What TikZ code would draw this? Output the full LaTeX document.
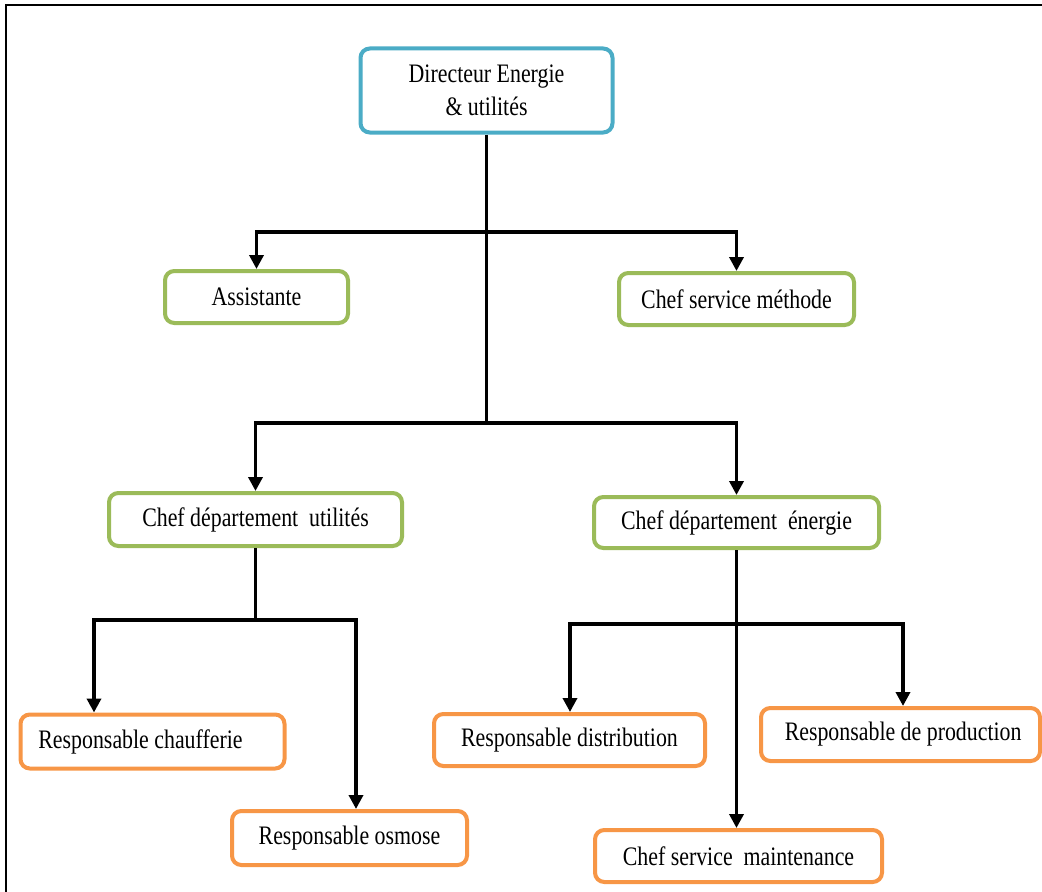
\documentclass[tikz,border=0pt]{standalone}
\usepackage{fontspec}
\setmainfont{Liberation Serif}[FakeStretch=0.82]
\usetikzlibrary{arrows.meta}
\definecolor{cblue}{HTML}{4BACC6}
\definecolor{cgreen}{HTML}{9BBB59}
\definecolor{corange}{HTML}{F79646}
\tikzset{
  box/.style={draw, line width=3pt, rounded corners=7pt, fill=white, align=center,
    inner sep=0pt, font=\fontsize{20}{24.75}\selectfont},
  sz/.style 2 args={minimum width=#1*0.75pt, minimum height=#2*0.75pt},
  topbox/.style={box, draw=cblue},
  midbox/.style={box, draw=cgreen},
  lowbox/.style={box, draw=corange},
  conn/.style={line width=2.8pt, line join=miter},
  arr/.style={conn, -{Triangle[width=10.5pt,length=10.5pt]}},
  frame/.style={line width=1.6pt}
}
\begin{document}
\begin{tikzpicture}[x=0.75pt, y=-0.75pt]
\useasboundingbox (0,0) rectangle (1042,892);
\draw[frame] (6,892) -- (6,5) -- (1042,5);

\node[topbox, sz={252}{84}] (dir) at (486.5,90.5) {Directeur Energie\\\& utilités};
\node[midbox, sz={183}{52}] (asst) at (256.5,297) {Assistante};
\node[midbox, sz={235}{52}] (meth) at (736.5,299) {Chef service méthode};
\node[midbox, sz={293}{53}] (cdu) at (255.5,519.5) {Chef département\ \ utilités};
\node[midbox, sz={285}{51}] (cde) at (736.5,522.5) {Chef département\ \ énergie};
\node[lowbox, sz={264}{54}] (chauf) at (152.5,741.5) {\hspace*{-18pt}Responsable chaufferie};
\node[lowbox, sz={235}{54}] (osm) at (349.5,838) {Responsable osmose};
\node[lowbox, sz={271}{52}] (dist) at (569.5,740) {Responsable distribution};
\node[lowbox, sz={279}{53}] (prod) at (900.5,734.5) {\hspace*{4pt}Responsable de production};
\node[lowbox, sz={287}{52}] (maint) at (738.5,856) {Chef service\ \ maintenance};

% level 1 and 2 buses
\coordinate (b1) at (486.5,232);
\coordinate (b2) at (486.5,423);
\draw[conn] (dir.south) -- (b2);
\draw[arr] (b1) -| (asst.north);
\draw[arr] (b1) -| (meth.north);
\draw[arr] (b2) -| (cdu.north);
\draw[arr] (b2) -| (cde.north);

% utilities branch
\coordinate (b3) at (255.5,620);
\coordinate (k1) at (94,620);
\coordinate (k2) at (356,620);
\draw[conn] (cdu.south) -- (b3);
\draw[arr] (b3) -- (k1) -- (k1 |- chauf.north);
\draw[arr] (b3) -- (k2) -- (k2 |- osm.north);

% energy branch
\coordinate (b4) at (738,624);
\coordinate (k3) at (570,624);
\coordinate (k4) at (903,624);
\draw[arr] (cde.south) -- (cde.south |- maint.north);
\draw[arr] (b4) -- (k3) -- (k3 |- dist.north);
\draw[arr] (b4) -- (k4) -- (k4 |- prod.north);
\end{tikzpicture}
\end{document}
